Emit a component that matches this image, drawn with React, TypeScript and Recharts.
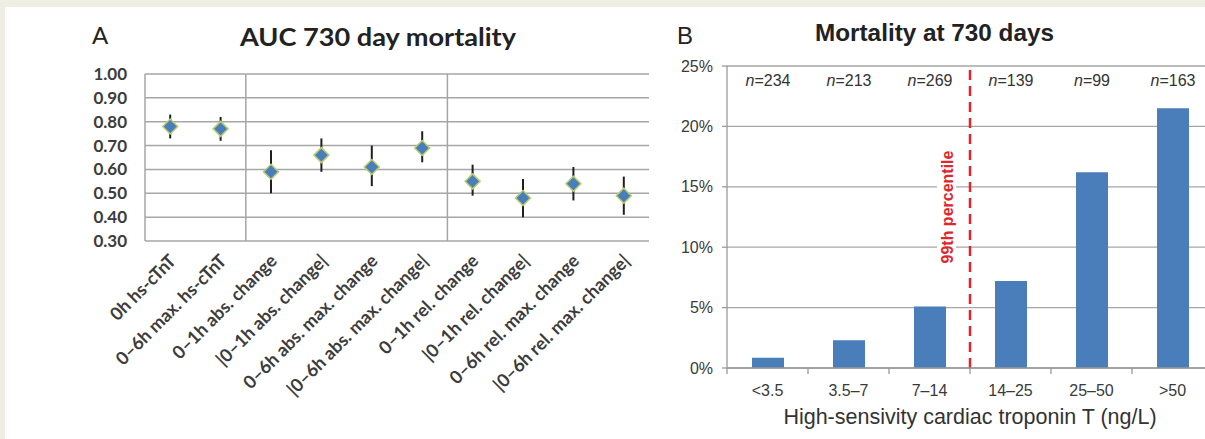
import {
  Bar,
  BarChart,
  CartesianGrid,
  ErrorBar,
  Label,
  LabelList,
  ReferenceLine,
  Scatter,
  ScatterChart,
  XAxis,
  YAxis,
} from "recharts";

// Panel A: AUC for 730 day mortality (point estimate + 95% CI)
const aucLabels = [
  "0h hs-cTnT",
  "0–6h max. hs-cTnT",
  "0–1h abs. change",
  "|0–1h abs. change|",
  "0–6h abs. max. change",
  "|0–6h abs. max. change|",
  "0–1h rel. change",
  "|0–1h rel. change|",
  "0–6h rel. max. change",
  "|0–6h rel. max. change|",
];
const aucValues = [0.78, 0.77, 0.59, 0.66, 0.61, 0.69, 0.55, 0.48, 0.54, 0.49];
const aucLower = [0.73, 0.72, 0.5, 0.59, 0.53, 0.63, 0.49, 0.4, 0.47, 0.41];
const aucUpper = [0.83, 0.82, 0.68, 0.73, 0.7, 0.76, 0.62, 0.56, 0.61, 0.57];
const aucTicks = [0.3, 0.4, 0.5, 0.6, 0.7, 0.8, 0.9, 1.0];
const groupBreaks = [2, 6];

// Panel B: mortality at 730 days by hs-cTnT bin
const troponinBins = ["<3.5", "3.5–7", "7–14", "14–25", "25–50", ">50"];
const mortalityPct = [0.85, 2.3, 5.1, 7.2, 16.2, 21.5];
const patientsN = [234, 213, 269, 139, 99, 163];
const mortalityTicks = [0, 5, 10, 15, 20, 25];
const percentileBin = "14–25"; // 99th percentile sits at the start of this bin

const aucData = aucLabels.map((name, i) => ({
  pos: i + 0.5,
  name,
  auc: aucValues[i],
  err: [aucValues[i] - aucLower[i], aucUpper[i] - aucValues[i]],
}));

const mortalityData = troponinBins.map((bin, i) => ({
  bin,
  pct: mortalityPct[i],
  n: patientsN[i],
}));

const CALIBRI = "Lato, 'Open Sans', sans-serif";
const ARIAL = "'Liberation Sans', Arial, sans-serif";

const B_LEFT = 640;
const B_WIDTH = 573;
const B_YAXIS = 87;
const B_TOP = 66;
const B_BAND = (B_WIDTH - B_YAXIS) / troponinBins.length;

function AucTick(props: any) {
  const { x, y, payload } = props;
  const label = aucLabels[Math.floor(payload.value)] ?? "";
  return (
    <g transform={`translate(${x + 7},${y + 19}) rotate(-45)`}>
      <text
        x={0}
        y={0}
        textAnchor="end"
        fontFamily={CALIBRI}
        fontSize={18}
        fontWeight={700}
        fill="#3c3c3c"
      >
        {label}
      </text>
    </g>
  );
}

function Diamond(props: any) {
  const { cx, cy } = props;
  const r = 7.5;
  return (
    <path
      d={`M${cx},${cy - r} L${cx + r},${cy} L${cx},${cy + r} L${cx - r},${cy} Z`}
      fill="#4a7ebb"
      stroke="#b9cd6e"
      strokeWidth={1.5}
    />
  );
}

function BinTick(props: any) {
  const { x, y, payload } = props;
  const bx = x - B_BAND / 2;
  return (
    <g>
      <line x1={bx} y1={y} x2={bx} y2={y + 6} stroke="#9a9a9a" strokeWidth={1.3} />
      <text
        x={x}
        y={y + 28}
        textAnchor="middle"
        fontFamily={ARIAL}
        fontSize={16}
        fill="#3a3a3a"
      >
        {payload.value}
      </text>
    </g>
  );
}

function NLabel(props: any) {
  const { x, width, value } = props;
  return (
    <text
      x={x + width / 2}
      y={B_TOP + 20}
      textAnchor="middle"
      fontFamily={ARIAL}
      fontSize={16}
      fill="#333"
    >
      <tspan fontStyle="italic">n</tspan>={value}
    </text>
  );
}

function PercentileLabel(props: any) {
  const { viewBox } = props;
  if (!viewBox) return null;
  const cx = viewBox.x - 23;
  const cy = viewBox.y + viewBox.height / 2 - 10;
  return (
    <g>
      <rect x={cx - 10} y={cy - 62} width={19} height={124} fill="#fff" />
      <text
        x={cx}
        y={cy}
        dy="0.35em"
        textAnchor="middle"
        transform={`rotate(-90, ${cx}, ${cy})`}
        fontFamily={ARIAL}
        fontSize={16}
        fontWeight={700}
        fill="#e0262b"
      >
        99th percentile
      </text>
    </g>
  );
}

export default function App() {
  return (
    <div
      style={{
        position: "absolute",
        left: 0,
        top: 0,
        width: 1205,
        height: 439,
        overflow: "hidden",
        background: "#eeeee3",
      }}
    >
      <div
        style={{
          position: "absolute",
          left: 5,
          top: 7,
          width: 1200,
          height: 432,
          background: "#fff",
        }}
      />

      <div style={{ position: "absolute", left: 0, top: 0 }}>
        <ScatterChart
          width={660}
          height={439}
          margin={{ top: 74, right: 11, bottom: 0, left: 0 }}
        >
          <CartesianGrid
            vertical={false}
            stroke="#a6a6a6"
            strokeWidth={1.5}
          />
          <XAxis
            type="number"
            dataKey="pos"
            domain={[0, aucLabels.length]}
            ticks={aucData.map((d) => d.pos)}
            interval={0}
            height={198}
            axisLine={false}
            tickLine={false}
            tickSize={0}
            tick={<AucTick />}
          />
          <YAxis
            type="number"
            dataKey="auc"
            domain={[0.3, 1]}
            ticks={aucTicks}
            interval={0}
            width={145}
            tickFormatter={(v: number) => v.toFixed(2)}
            axisLine={{ stroke: "#a6a6a6", strokeWidth: 1.5 }}
            tickLine={false}
            tickSize={0}
            tickMargin={18}
            tick={{
              fill: "#3c3c3c",
              fontFamily: CALIBRI,
              fontSize: 17,
              fontWeight: 700,
            }}
          />
          {groupBreaks.map((b) => (
            <ReferenceLine
              key={b}
              x={b}
              stroke="#a6a6a6"
              strokeWidth={1.5}
            />
          ))}
          <Scatter
            data={aucData}
            shape={<Diamond />}
            isAnimationActive={false}
          >
            <ErrorBar
              dataKey="err"
              direction="y"
              width={0}
              stroke="#1f1f1f"
              strokeWidth={2}
              isAnimationActive={false}
            />
          </Scatter>
        </ScatterChart>
      </div>

      <div style={{ position: "absolute", left: B_LEFT, top: 0 }}>
        <BarChart
          width={B_WIDTH}
          height={439}
          data={mortalityData}
          margin={{ top: B_TOP, right: 0, bottom: 10, left: 0 }}
        >
          <CartesianGrid vertical={false} stroke="#a6a6a6" strokeWidth={1.3} />
          <XAxis
            dataKey="bin"
            height={61}
            axisLine={{ stroke: "#9a9a9a", strokeWidth: 1.3 }}
            tickLine={false}
            tickSize={0}
            tickMargin={0}
            interval={0}
            tick={<BinTick />}
          >
            <Label
              value="High-sensivity cardiac troponin T (ng/L)"
              position="insideBottom"
              offset={5}
              style={{ fontFamily: ARIAL, fontSize: 21.5, fill: "#333" }}
            />
          </XAxis>
          <YAxis
            domain={[0, 25]}
            ticks={mortalityTicks}
            interval={0}
            width={B_YAXIS}
            tickFormatter={(v: number) => `${v}%`}
            axisLine={{ stroke: "#9a9a9a", strokeWidth: 1.3 }}
            tickLine={{ stroke: "#9a9a9a", strokeWidth: 1.3 }}
            tickSize={5}
            tickMargin={9}
            tick={{ fill: "#3a3a3a", fontFamily: ARIAL, fontSize: 16 }}
          />
          <Bar
            dataKey="pct"
            fill="#4a7ebb"
            barSize={32}
            isAnimationActive={false}
          >
            <LabelList dataKey="n" content={<NLabel />} />
          </Bar>
          <ReferenceLine
            x={percentileBin}
            position="start"
            stroke="#e0262b"
            strokeWidth={2.5}
            strokeDasharray="10 6"
            label={<PercentileLabel />}
          />
        </BarChart>
      </div>

      <svg
        width={1205}
        height={439}
        style={{ position: "absolute", left: 0, top: 0, pointerEvents: "none" }}
      >
        <text x={92} y={44} fontFamily={CALIBRI} fontSize={24} fill="#222">
          A
        </text>
        <text
          x={240}
          y={46}
          textLength={276}
          lengthAdjust="spacingAndGlyphs"
          fontFamily={CALIBRI}
          fontSize={25}
          fontWeight={700}
          fill="#222"
        >
          AUC 730 day mortality
        </text>
        <text x={677} y={44} fontFamily={ARIAL} fontSize={24} fill="#222">
          B
        </text>
        <text
          x={815}
          y={41}
          textLength={239}
          lengthAdjust="spacingAndGlyphs"
          fontFamily={ARIAL}
          fontSize={24}
          fontWeight={700}
          fill="#222"
        >
          Mortality at 730 days
        </text>
      </svg>
    </div>
  );
}
